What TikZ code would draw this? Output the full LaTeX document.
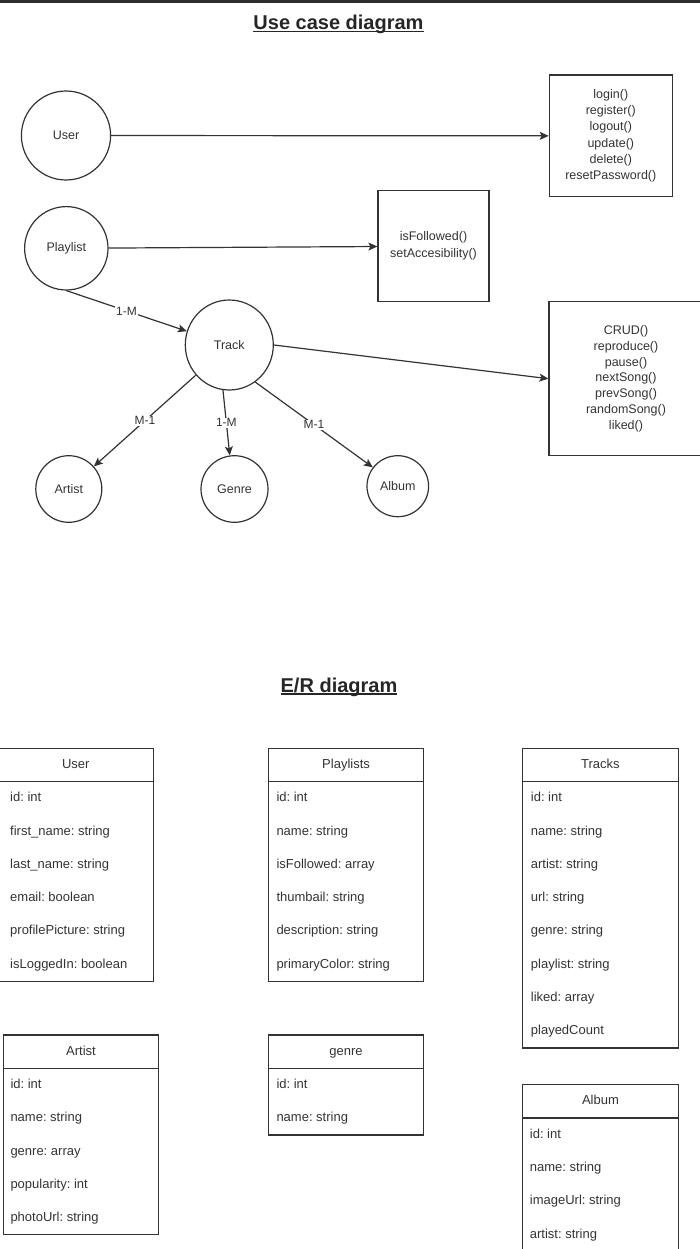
\documentclass[tikz,border=0pt]{standalone}
\usepackage{fontspec}
\setmainfont{Liberation Sans}
\usetikzlibrary{shapes.geometric,arrows.meta,calc}
\definecolor{ink}{HTML}{333333}
\definecolor{topbar}{HTML}{2E2E2E}
\frenchspacing
\newcommand\ulin[1]{\setbox0\hbox{#1}\rlap{\raisebox{-2.6pt}{\rule{\wd0}{1.3pt}}}\box0}
\newcommand\ertable[7]{%
  \node[hdr] (#1) at (#2,#3) {#4};
  \node[body, minimum height=#6*33.3pt] (#1-body) at (#1.south west) {};
  \foreach \f [count=\i from 0] in {#5} {
    \node[fld] (#1-\i) at ($(#1.south west)+(#7,16.65+33.3*\i)$) {\f};
  }%
}
\begin{document}
\begin{tikzpicture}[x=1pt,y=-1pt,
  line/.style={draw=ink, line width=1.2pt},
  arr/.style={line, -{Stealth[length=9pt,width=8pt,inset=2pt]}},
  uc/.style={ellipse, draw=ink, line width=1.2pt, inner sep=0pt, text=ink, font=\fontsize{12.5}{15}\selectfont},
  ops/.style={rectangle, draw=ink, line width=1.2pt, inner sep=0pt, align=center, text=ink, font=\fontsize{12.5}{16.3}\selectfont},
  lbl/.style={fill=white, inner sep=1pt, text=ink, font=\fontsize{12}{14}\selectfont},
  ttl/.style={anchor=base, inner sep=0pt, text=black!85, font=\bfseries\fontsize{20}{24}\selectfont},
  hdr/.style={draw=ink, line width=1.2pt, minimum width=155.5pt, minimum height=33.3pt, inner sep=0pt, outer sep=0pt, anchor=north west, text height=9.5pt, text depth=2.5pt, text=ink, font=\fontsize{13}{15}\selectfont},
  body/.style={draw=ink, line width=1.2pt, minimum width=155.5pt, inner sep=0pt, outer sep=0pt, anchor=north west},
  fld/.style={anchor=west, inner sep=0pt, text height=9.5pt, text depth=2.5pt, text=ink, font=\fontsize{13}{15}\selectfont}
]
\useasboundingbox (0,0) rectangle (700,1249);
\clip (0,0) rectangle (700,1249);
\fill[topbar] (0,0) rectangle (700,3);

% ---------- Use case diagram ----------
\node[ttl] (uctitle) at (338.5,29.5) {\ulin{Use case diagram}};

\node[uc, minimum width=89.2pt, minimum height=89pt] (user) at (66,135.5) {User};
\node[uc, minimum width=83.4pt, minimum height=83.4pt] (playlist) at (66.3,248.3) {Playlist};
\node[uc, minimum width=88pt, minimum height=90pt] (track) at (229.3,345) {Track};
\node[uc, minimum width=66pt, minimum height=66.6pt] (artist) at (68.8,489) {Artist};
\node[uc, minimum width=67pt, minimum height=66.6pt] (genre) at (234.5,489) {Genre};
\node[uc, minimum width=61.6pt, minimum height=61pt] (album) at (397.8,486.2) {Album};

\node[ops, minimum width=123pt, minimum height=121.7pt] (login) at (610.8,135.9)
  {login()\\register()\\logout()\\update()\\delete()\\resetPassword()};
\node[ops, minimum width=111pt, minimum height=111pt, font=\fontsize{12.5}{17}\selectfont] (isf) at (433.5,246.2)
  {isFollowed()\\setAccesibility()};
\node[ops, minimum width=154pt, minimum height=154pt, font=\fontsize{12.5}{15.8}\selectfont] (crud) at (626,378.7)
  {CRUD()\\reproduce()\\pause()\\nextSong()\\prevSong()\\randomSong()\\liked()};

\draw[arr] (user) -- (login);
\draw[arr] (playlist) -- (isf);
\draw[arr] (playlist.south) -- node[lbl]{1-M} (track.162);
\draw[arr] (track.east) -- (crud.west);
\draw[arr] (track.222) -- node[lbl]{M-1} (artist.42);
\draw[arr] (track.262) -- node[lbl]{1-M} (genre.98);
\draw[arr] (track.305) -- node[lbl]{M-1} (album.143);

% ---------- E/R diagram ----------
\node[ttl] (ertitle) at (339,692) {\ulin{E/R diagram}};

\ertable{erUser}{-2}{748.3}{User}{id: int,first\_name: string,last\_name: string,email: boolean,profilePicture: string,isLoggedIn: boolean}{6}{12}
\ertable{erPlaylists}{268.3}{748.3}{Playlists}{id: int,name: string,isFollowed: array,thumbail: string,description: string,primaryColor: string}{6}{8}
\ertable{erTracks}{522.7}{748.3}{Tracks}{id: int,name: string,artist: string,url: string,genre: string,playlist: string,liked: array,playedCount}{8}{8}
\ertable{erArtist}{3.3}{1035}{Artist}{id: int,name: string,genre: array,popularity: int,photoUrl: string}{5}{7}
\ertable{erGenre}{268.3}{1035}{genre}{id: int,name: string}{2}{8}
\ertable{erAlbum}{522.7}{1084.7}{Album}{id: int,name: string,imageUrl: string,artist: string}{4}{7}
\end{tikzpicture}
\end{document}
